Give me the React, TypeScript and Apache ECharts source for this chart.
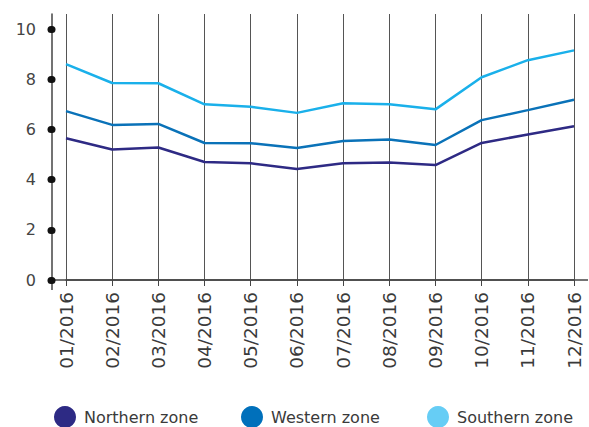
import React, { useEffect, useRef } from "react";
import * as echarts from "echarts";

const categories = ["01/2016", "02/2016", "03/2016", "04/2016", "05/2016", "06/2016", "07/2016", "08/2016", "09/2016", "10/2016", "11/2016", "12/2016"];
const northern = [5.65, 5.2, 5.28, 4.7, 4.65, 4.42, 4.65, 4.68, 4.58, 5.46, 5.8, 6.13];
const western = [6.73, 6.18, 6.22, 5.46, 5.45, 5.26, 5.54, 5.6, 5.38, 6.37, 6.77, 7.18];
const southern = [8.6, 7.85, 7.84, 7.0, 6.9, 6.66, 7.04, 7.0, 6.8, 8.08, 8.76, 9.15];
const yTicks = [0, 2, 4, 6, 8, 10];
const seriesNames = ["Northern zone", "Western zone", "Southern zone"];

const FONT = "'DejaVu Sans', 'Open Sans', sans-serif";

export default function App() {
  const ref = useRef<HTMLDivElement>(null);
  useEffect(() => {
    if (!ref.current) return;
    const chart = echarts.init(ref.current, undefined, { renderer: "svg" });
    const mk = (name: string, data: number[], color: string, legendColor: string) => ({
      name,
      type: "line",
      data,
      symbol: "none",
      lineStyle: { color, width: 2.5 },
      itemStyle: { color: legendColor },
    });
    const legendLefts = [54, 241, 427];
    chart.setOption({
      animation: false,
      textStyle: { fontFamily: FONT },
      grid: { left: 66, right: 15, top: 14, bottom: 147 },
      xAxis: {
        type: "category",
        data: categories,
        boundaryGap: false,
        axisLine: { show: true, lineStyle: { color: "#444", width: 1.5 } },
        axisTick: { show: true, length: 6, lineStyle: { color: "#444" } },
        splitLine: { show: true, lineStyle: { color: "#555", width: 1 } },
        axisLabel: { rotate: 90, margin: 12, fontSize: 18.5, color: "#3a3a3a", fontFamily: FONT },
      },
      yAxis: {
        type: "value",
        min: 0,
        max: 10.6,
        interval: 2,
        offset: 14,
        splitLine: { show: false },
        axisLine: { show: true, lineStyle: { color: "#444", width: 1.5 } },
        axisTick: {
          show: true,
          length: 1,
          customValues: yTicks,
          lineStyle: { color: "#111", width: 7, cap: "round" },
        },
        axisLabel: { customValues: yTicks, margin: 16, fontSize: 16, color: "#444", fontFamily: FONT },
      },
      legend: seriesNames.map((n, i) => ({
        data: [n],
        left: legendLefts[i],
        top: 406,
        padding: 0,
        itemWidth: 22,
        itemHeight: 22,
        icon: "circle",
        textStyle: { fontSize: 16, color: "#3a3a3a", fontFamily: FONT, padding: [0, 0, 0, 3] },
      })),
      graphic: [
        { type: "line", shape: { x1: 52, y1: 280, x2: 588, y2: 280 }, style: { stroke: "#444", lineWidth: 1.5 } },
        { type: "line", shape: { x1: 52, y1: 280, x2: 52, y2: 290 }, style: { stroke: "#444", lineWidth: 1.5 } },
      ],
      series: [
        mk(seriesNames[0], northern, "#2e2a84", "#2d2a84"),
        mk(seriesNames[1], western, "#0a72b8", "#0070bb"),
        mk(seriesNames[2], southern, "#1ab0ea", "#66cdf5"),
      ],
    });
    return () => chart.dispose();
  }, []);
  return <div ref={ref} style={{ position: "absolute", left: 0, top: 0, width: 589, height: 427 }} />;
}
